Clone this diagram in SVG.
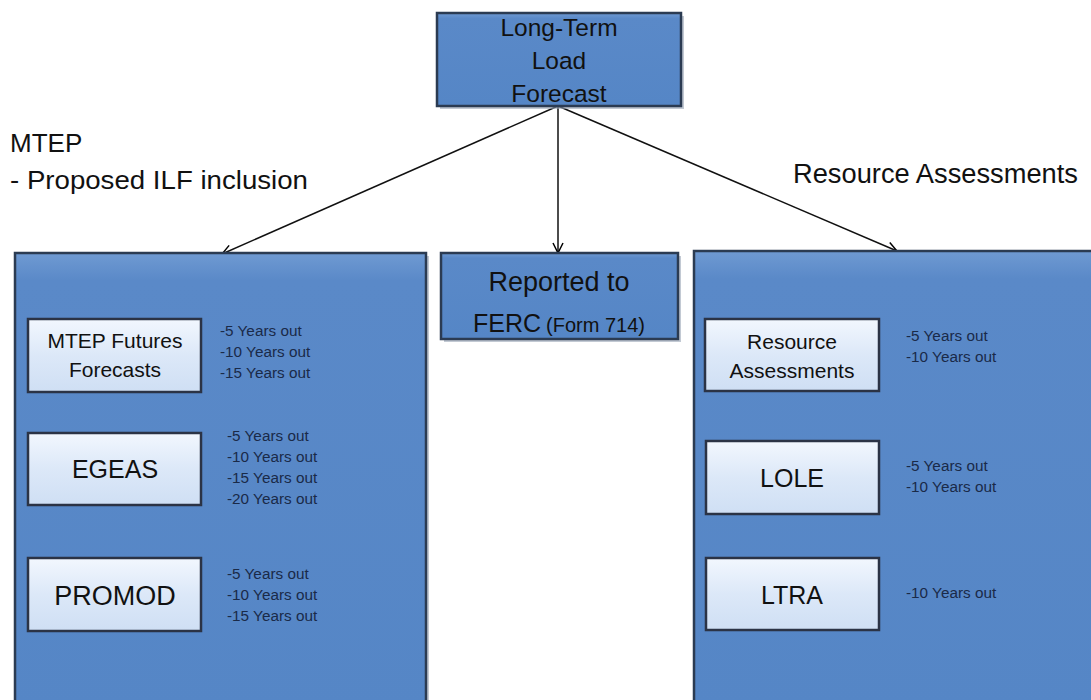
<svg xmlns="http://www.w3.org/2000/svg" width="1091" height="700" viewBox="0 0 1091 700">
<defs>
<linearGradient id="blue" x1="0" y1="0" x2="0" y2="1">
<stop offset="0" stop-color="#6f9ad2"/>
<stop offset="0.06" stop-color="#5a89c8"/>
<stop offset="1" stop-color="#5586c6"/>
</linearGradient>
<linearGradient id="light" x1="0" y1="0" x2="0" y2="1">
<stop offset="0" stop-color="#f2f7fe"/>
<stop offset="0.5" stop-color="#dce8f8"/>
<stop offset="1" stop-color="#cfdff4"/>
</linearGradient>
<marker id="arr" viewBox="0 0 12 12" refX="11" refY="6" markerWidth="12" markerHeight="12" markerUnits="userSpaceOnUse" orient="auto">
<path d="M1,1 L11,6 L1,11" fill="none" stroke="#000" stroke-width="1.5"/>
</marker>
</defs>
<style>
.big{fill:url(#blue);stroke:#2b3b52;stroke-width:2.5}
.inner{fill:url(#light);stroke:#2b3345;stroke-width:2.5}
.shadow{fill:#9aa5b5;opacity:0.6}
.lbl{font-family:"Liberation Sans",Arial,sans-serif;fill:#111}
.yrs{font-family:"Liberation Sans",Arial,sans-serif;font-size:15.3px;fill:#1a2a48}
.conn{stroke:#111;stroke-width:1.5;fill:none}
</style>
<rect width="1091" height="700" fill="#fff"/>

<g id="conn">
<line class="conn" x1="558" y1="106" x2="222" y2="254" marker-end="url(#arr)"/>
<line class="conn" x1="558" y1="106" x2="558" y2="253" marker-end="url(#arr)"/>
<line class="conn" x1="558" y1="106" x2="897" y2="251" marker-end="url(#arr)"/>
</g>

<g id="mtep-label">
<text class="lbl" x="10" y="152" font-size="26">MTEP</text>
<text class="lbl" x="10" y="189" font-size="26" textLength="298" lengthAdjust="spacingAndGlyphs">- Proposed ILF inclusion</text>
</g>
<g id="ra-label">
<text class="lbl" x="793" y="183" font-size="27" textLength="285" lengthAdjust="spacingAndGlyphs">Resource Assessments</text>
</g>

<g id="ltlf">
<rect class="shadow" x="440" y="16" width="244" height="93"/>
<rect class="big" x="437" y="13" width="244" height="93"/>
<text class="lbl" font-size="24.5" text-anchor="middle"><tspan x="559" y="36">Long-Term</tspan><tspan x="559" y="69">Load</tspan><tspan x="559" y="102">Forecast</tspan></text>
</g>

<g id="left-panel">
<rect class="shadow" x="18" y="256" width="411" height="450"/>
<rect class="big" x="15" y="253" width="411" height="460"/>
</g>

<g id="ferc">
<rect class="shadow" x="444" y="256" width="237" height="86"/>
<rect class="big" x="441" y="253" width="237" height="86"/>
<text class="lbl" font-size="27" text-anchor="middle" x="559" y="291">Reported to</text>
<text class="lbl" x="473" y="332"><tspan font-size="25">FERC</tspan><tspan font-size="20" dx="5">(Form 714)</tspan></text>
</g>

<g id="right-panel">
<rect class="shadow" x="697" y="254" width="400" height="450"/>
<rect class="big" x="694" y="251" width="410" height="460"/>
</g>

<g id="mtep-futures">
<rect class="inner" x="28" y="319" width="173" height="73"/>
<text class="lbl" font-size="21" text-anchor="middle"><tspan x="115" y="348">MTEP Futures</tspan><tspan x="115" y="377">Forecasts</tspan></text>
<text class="yrs"><tspan x="220" y="336">-5 Years out</tspan><tspan x="220" y="357">-10 Years out</tspan><tspan x="220" y="378">-15 Years out</tspan></text>
</g>

<g id="egeas">
<rect class="inner" x="28" y="433" width="173" height="72"/>
<text class="lbl" font-size="25" text-anchor="middle" x="115" y="478">EGEAS</text>
<text class="yrs"><tspan x="227" y="441">-5 Years out</tspan><tspan x="227" y="462">-10 Years out</tspan><tspan x="227" y="483">-15 Years out</tspan><tspan x="227" y="504">-20 Years out</tspan></text>
</g>

<g id="promod">
<rect class="inner" x="28" y="558" width="173" height="73"/>
<text class="lbl" font-size="27" text-anchor="middle" x="115" y="605">PROMOD</text>
<text class="yrs"><tspan x="227" y="579">-5 Years out</tspan><tspan x="227" y="600">-10 Years out</tspan><tspan x="227" y="621">-15 Years out</tspan></text>
</g>

<g id="resource-assessments">
<rect class="inner" x="705" y="319" width="174" height="72"/>
<text class="lbl" font-size="21" text-anchor="middle"><tspan x="792" y="349">Resource</tspan><tspan x="792" y="378">Assessments</tspan></text>
<text class="yrs"><tspan x="906" y="341">-5 Years out</tspan><tspan x="906" y="362">-10 Years out</tspan></text>
</g>

<g id="lole">
<rect class="inner" x="706" y="441" width="173" height="73"/>
<text class="lbl" font-size="25" text-anchor="middle" x="792" y="487">LOLE</text>
<text class="yrs"><tspan x="906" y="471">-5 Years out</tspan><tspan x="906" y="492">-10 Years out</tspan></text>
</g>

<g id="ltra">
<rect class="inner" x="706" y="558" width="173" height="72"/>
<text class="lbl" font-size="25" text-anchor="middle" x="792" y="604">LTRA</text>
<text class="yrs"><tspan x="906" y="598">-10 Years out</tspan></text>
</g>
</svg>
